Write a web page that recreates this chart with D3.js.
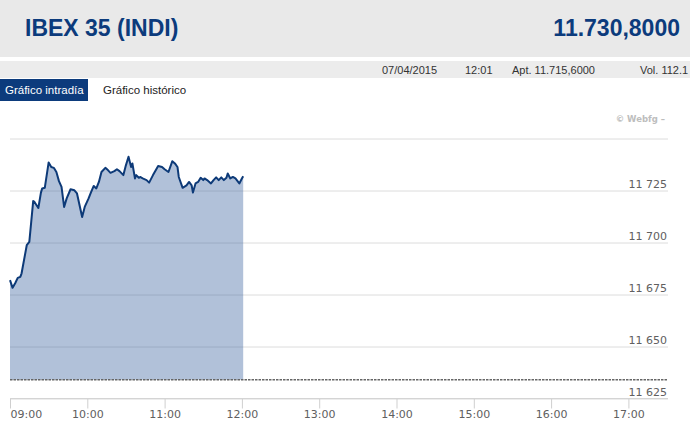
<!DOCTYPE html>
<html>
<head>
<meta charset="utf-8">
<title>IBEX 35 (INDI) - Gráfico intradía</title>
<script src="https://cdn.jsdelivr.net/npm/d3@7"></script>
<style>
  body { margin: 0; background: #fff; }
  svg { display: block; font-family: "Liberation Sans", Arial, sans-serif; }
  .axis text { font-family: "DejaVu Sans", Verdana, sans-serif; font-size: 11px; fill: #606060; }
</style>
</head>
<body>
<svg width="690" height="429"></svg>
<script>
    // intraday quotes, 07/04/2015
    var times = [
        "09:00", "09:02", "09:04", "09:06", "09:08", "09:09", "09:13", "09:15", "09:18", "09:19",
        "09:22", "09:24", "09:25", "09:27", "09:30", "09:32", "09:34", "09:36", "09:38", "09:40",
        "09:42", "09:44", "09:47", "09:50", "09:52", "09:56", "09:58",
        "10:01", "10:03", "10:05", "10:07", "10:09", "10:11", "10:14", "10:16", "10:18", "10:21",
        "10:23", "10:25", "10:28", "10:30", "10:32", "10:34", "10:35", "10:37", "10:38", "10:40",
        "10:41", "10:43", "10:46", "10:48", "10:51", "10:55", "10:58",
        "11:00", "11:03", "11:06", "11:08", "11:10", "11:11", "11:14", "11:17", "11:19", "11:21",
        "11:22", "11:24", "11:26", "11:28", "11:30", "11:31", "11:33", "11:36", "11:38", "11:40",
        "11:42", "11:44", "11:46", "11:48", "11:49", "11:51", "11:53", "11:55", "11:58",
        "12:00", "12:01"
    ];
    var values = [
        11681.9, 11678.2, 11680.4, 11683.0, 11683.5, 11685.2, 11698.7, 11700.3, 11719.9, 11719.5,
        11716.6, 11724.0, 11726.0, 11726.3, 11738.5, 11736.3, 11735.9, 11733.9, 11729.5, 11726.7,
        11717.1, 11721.2, 11725.6, 11725.1, 11723.6, 11712.3, 11717.1,
        11721.2, 11724.3, 11727.2, 11726.0, 11729.1, 11733.9, 11735.9, 11734.8, 11733.5, 11734.3,
        11735.2, 11734.3, 11732.4, 11737.2, 11741.2, 11736.3, 11738.0, 11730.8, 11732.4, 11731.1,
        11731.5, 11730.8, 11730.0, 11728.8, 11732.4, 11736.8, 11736.3,
        11735.2, 11733.9, 11739.1, 11738.0, 11736.3, 11731.5, 11726.3, 11727.5, 11729.1, 11727.5,
        11724.0, 11728.4, 11729.1, 11731.1, 11730.0, 11730.8, 11730.0, 11728.4, 11730.0, 11731.3,
        11730.0, 11731.3, 11730.0, 11731.1, 11733.2, 11730.8, 11731.5, 11730.8, 11728.4,
        11730.8, 11731.9
    ];
    var baseValue = 11634;   // dashed reference line, area is filled down to it
    var yTicks = [11625, 11650, 11675, 11700, 11725, 11750];
    var xTicks = ["09:00", "10:00", "11:00", "12:00", "13:00", "14:00", "15:00", "16:00", "17:00"];

    var headerTitle = "IBEX 35 (INDI)";
    var headerValue = "11.730,8000";
    var infoCells = ["07/04/2015", "12:01", "Apt. 11.715,6000", "Vol. 112.1"];
    var infoX = [382, 465, 512, 640];
    var tabs = ["Gráfico intradía", "Gráfico histórico"];

    var svg = d3.select("svg");
    var blue = "#0c3b7c";

    // header band
    svg.append("rect").attr("x", 0).attr("y", 0).attr("width", 690).attr("height", 57).attr("fill", "#e9e9e9");
    svg.append("text").attr("x", 25).attr("y", 36).attr("fill", blue)
        .style("font-size", "23px").style("font-weight", "bold").text(headerTitle);
    svg.append("text").attr("x", 680).attr("y", 36).attr("fill", blue).attr("text-anchor", "end")
        .style("font-size", "23px").style("font-weight", "bold").text(headerValue);

    // info row
    svg.append("rect").attr("x", 0).attr("y", 61).attr("width", 690).attr("height", 17).attr("fill", "#ececec");
    svg.selectAll(".info").data(infoCells).enter().append("text")
        .attr("class", "info")
        .attr("x", function (d, i) { return infoX[i]; })
        .attr("y", 73.5)
        .attr("fill", "#333")
        .style("font-size", "11px")
        .text(function (d) { return d; });

    // tabs
    svg.append("rect").attr("x", 0).attr("y", 79).attr("width", 88).attr("height", 22).attr("fill", blue);
    svg.append("text").attr("x", 5).attr("y", 94).attr("fill", "#fff").style("font-size", "11.5px").text(tabs[0]);
    svg.append("text").attr("x", 103).attr("y", 94).attr("fill", "#222").style("font-size", "11.5px").text(tabs[1]);

    // scales
    var parseTime = d3.timeParse("%H:%M");
    var data = times.map(function (t, i) { return { t: parseTime(t), v: values[i] }; });

    var x = d3.scaleTime()
        .domain([parseTime(xTicks[0]), parseTime(xTicks[xTicks.length - 1])])
        .range([10, 628.4]);
    var y = d3.scaleLinear()
        .domain([yTicks[0], yTicks[yTicks.length - 1]])
        .range([398.5, 138.5]);

    var fmt = d3.formatLocale({ decimal: ",", thousands: " ", grouping: [3], currency: ["", " €"] }).format(",d");

    // y gridlines + labels (no label on the top line)
    var yAxis = svg.append("g")
        .attr("class", "axis")
        .attr("transform", "translate(668,0)")
        .call(d3.axisLeft(y).tickValues(yTicks).tickSize(658).tickFormat(function (d) {
            return d === yTicks[yTicks.length - 1] ? "" : fmt(d);
        }));
    yAxis.select(".domain").remove();
    yAxis.selectAll(".tick line").attr("stroke", "#dcdcdc");
    yAxis.selectAll(".tick text").attr("x", -1).attr("dy", "-3").attr("text-anchor", "end");

    // x axis
    var xAxis = svg.append("g")
        .attr("class", "axis")
        .attr("transform", "translate(0,398.5)")
        .call(d3.axisBottom(x).tickValues(xTicks.map(parseTime)).tickSize(10).tickSizeOuter(0)
            .tickPadding(2).tickFormat(d3.timeFormat("%H:%M")));
    xAxis.select(".domain").remove();
    xAxis.append("line").attr("x1", 10).attr("x2", 668).attr("stroke", "#d4d4d4");
    xAxis.selectAll(".tick line").attr("stroke", "#cfcfcf");
    xAxis.selectAll(".tick text").filter(function (d, i) { return i === 0; })
        .attr("text-anchor", "start").attr("x", 0);

    // area + line
    var area = d3.area()
        .x(function (d) { return x(d.t); })
        .y0(y(baseValue))
        .y1(function (d) { return y(d.v); });
    var line = d3.line()
        .x(function (d) { return x(d.t); })
        .y(function (d) { return y(d.v); });

    svg.append("path").datum(data).attr("d", area)
        .attr("fill", "#3d64a0").attr("fill-opacity", 0.4);

    // dashed reference line
    svg.append("line")
        .attr("x1", 10).attr("x2", 668)
        .attr("y1", y(baseValue)).attr("y2", y(baseValue))
        .attr("stroke", "#666").attr("stroke-width", 1.5).attr("stroke-dasharray", "2.5,1");

    svg.append("path").datum(data).attr("d", line)
        .attr("fill", "none").attr("stroke", "#0d3a78").attr("stroke-width", 2)
        .attr("stroke-linejoin", "round");

    // credit
    svg.append("text").attr("x", 665).attr("y", 122)
        .attr("text-anchor", "end").attr("fill", "#bdbdbd")
        .style("font-family", "'DejaVu Sans', Verdana, sans-serif")
        .style("font-size", "8.5px").style("font-weight", "bold")
        .text("© Webfg –");
</script>
</body>
</html>
